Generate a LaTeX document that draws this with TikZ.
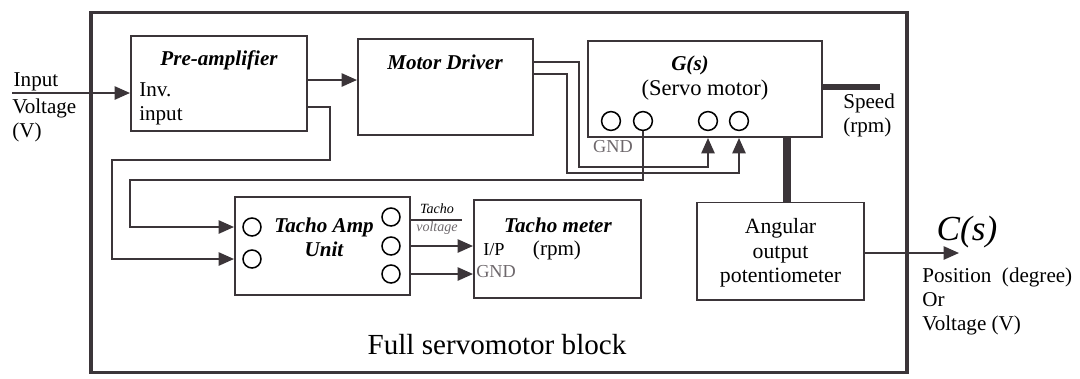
\documentclass[tikz,border=0pt]{standalone}
\usepackage{fontspec}
\setmainfont{Liberation Serif}
\usetikzlibrary{positioning,arrows.meta}
\definecolor{ink}{HTML}{3B3539}
\definecolor{grayink}{HTML}{6E686C}

\begin{document}
\begin{tikzpicture}[
  x=0.025cm, y=-0.025cm,
  >={Triangle[length=11pt,width=9.5pt]},
  font=\fontsize{15}{17}\selectfont,
  box/.style={draw=ink, line width=1.4pt, inner sep=0pt},
  port/.style={circle, draw=black, line width=1.1pt, minimum size=0.47cm, inner sep=0pt},
  wire/.style={draw=ink, line width=1.3pt},
  shaft/.style={draw=ink, line width=5pt},
  title/.style={font=\fontsize{15}{17}\selectfont\bfseries\itshape},
  small/.style={font=\fontsize{13}{15}\selectfont},
  dim/.style={text=grayink}
]
  \useasboundingbox (0,0) rectangle (1080,378);
  % outer frame
  \node[draw=ink, line width=2.4pt, minimum width=20.4cm, minimum height=9.0cm] (frame) at (499,192.5) {};
  \node[font=\fontsize{20.7}{24}\selectfont] (fname) at (497,345) {Full servomotor block};

  % blocks
  \node[box, minimum width=4.4cm, minimum height=2.375cm] (pre) at (219,83.5) {};
  \node[box, minimum width=4.375cm, minimum height=2.4cm] (drv) at (445.5,87) {};
  \node[box, minimum width=5.85cm, minimum height=2.4cm] (gs) at (705,89) {};
  \node[box, minimum width=4.375cm, minimum height=2.45cm] (amp) at (322.5,246) {};
  \node[box, minimum width=4.175cm, minimum height=2.45cm] (meter) at (557.5,249) {};
  \node[box, minimum width=4.175cm, minimum height=2.425cm] (pot) at (780.5,251) {};

  % block texts
  \node[title] (pretxt) at (219,60) {Pre-amplifier};
  \node[align=left, anchor=north west, inner sep=0pt] (inv) at (139,82) {Inv.\\input};
  \node[title] (drvtxt) at (445,62) {Motor Driver};
  \node[title] (gstxt) at (690,65) {G(s)};
  \node[font=\fontsize{16}{18}\selectfont] (servo) at (705,90) {(Servo motor)};
  \node[title, align=center] (amptxt) at (324,237) {Tacho Amp\\Unit};
  \node[title] (metertxt) at (558,225) {Tacho meter};
  \node[small, anchor=west, inner sep=0pt] (ip) at (483,250) {I/P};
  \node (rpm) at (557,250) {(rpm)};
  \node[small, dim, anchor=west, inner sep=0pt] (mgnd) at (476,272) {GND};
  \node[align=center, font=\fontsize{15.5}{17.5}\selectfont] (pottxt) at (780.5,253) {Angular\\output\\potentiometer};

  % ports
  \node[port] (g1) at (611,121) {};
  \node[port] (g2) at (643,121) {};
  \node[port] (g3) at (708,121) {};
  \node[port] (g4) at (739,121) {};
  \node[small, dim] (ggnd) at (613,147) {GND};
  \node[port, minimum size=0.45cm] (a1) at (252,227) {};
  \node[port, minimum size=0.45cm] (a2) at (252,259) {};
  \node[port, minimum size=0.45cm] (r1) at (391,217) {};
  \node[port, minimum size=0.45cm] (r2) at (391,246) {};
  \node[port, minimum size=0.45cm] (r3) at (391,274) {};

  % input
  \coordinate (in) at (12,93);
  \node[anchor=south west, inner sep=1pt] (intxt) at (in) {Input};
  \node[align=left, anchor=north west, inner sep=0pt] (involt) at (12,99) {Voltage\\(V)};
  \draw[wire, ->] (in) -- (pre.west |- in);
  \draw[wire, ->] (pre.east |- 0,80) -- (drv.west |- 0,80);

  % motor driver to servo motor
  \draw[wire, ->] (drv.east |- 0,62) -| (579,167) -| (g3 |- gs.south);
  \draw[wire, ->] (drv.east |- 0,74) -| (567,173) -| (g4 |- gs.south);

  % feedback to tacho amp
  \draw[wire, ->] (pre.east |- 0,107) -| (330,160) -| (112,200) |- (amp.west |- a2);
  \draw[wire, ->] (g2.south) |- (130,180) |- (amp.west |- a1);

  % tacho amp to tacho meter
  \coordinate (tv) at (462,220);
  \draw[wire] (amp.east |- tv) -- (tv);
  \node[font=\fontsize{10}{12}\selectfont\itshape, anchor=south] (tvtop) at (437,219) {Tacho};
  \node[font=\fontsize{10}{12}\selectfont\itshape, dim, anchor=north] (tvbot) at (437,217) {voltage};
  \draw[wire, ->] (amp.east |- r2) -- (meter.west |- r2);
  \draw[wire, ->] (amp.east |- r3) -- (meter.west |- r3);

  % shafts
  \coordinate (sp) at (880,87);
  \draw[shaft, line width=4.5pt] (gs.east |- sp) -- (sp);
  \node[align=left, anchor=north west, inner sep=0pt] (speed) at (843,94) {Speed\\(rpm)};
  \draw[shaft, line width=6pt] (gs.south -| 787,0) -- (pot.north -| 787,0);

  % output
  \coordinate (out) at (959,253);
  \draw[wire, ->] (pot.east |- out) -- (out);
  \node[font=\fontsize{25}{28}\selectfont\itshape] (cs) at (967,232) {C(s)};
  \node[align=left, anchor=north west, inner sep=0pt] (outtxt) at (922,268) {Position\ \ (degree)\\Or\\Voltage (V)};
\end{tikzpicture}
\end{document}
